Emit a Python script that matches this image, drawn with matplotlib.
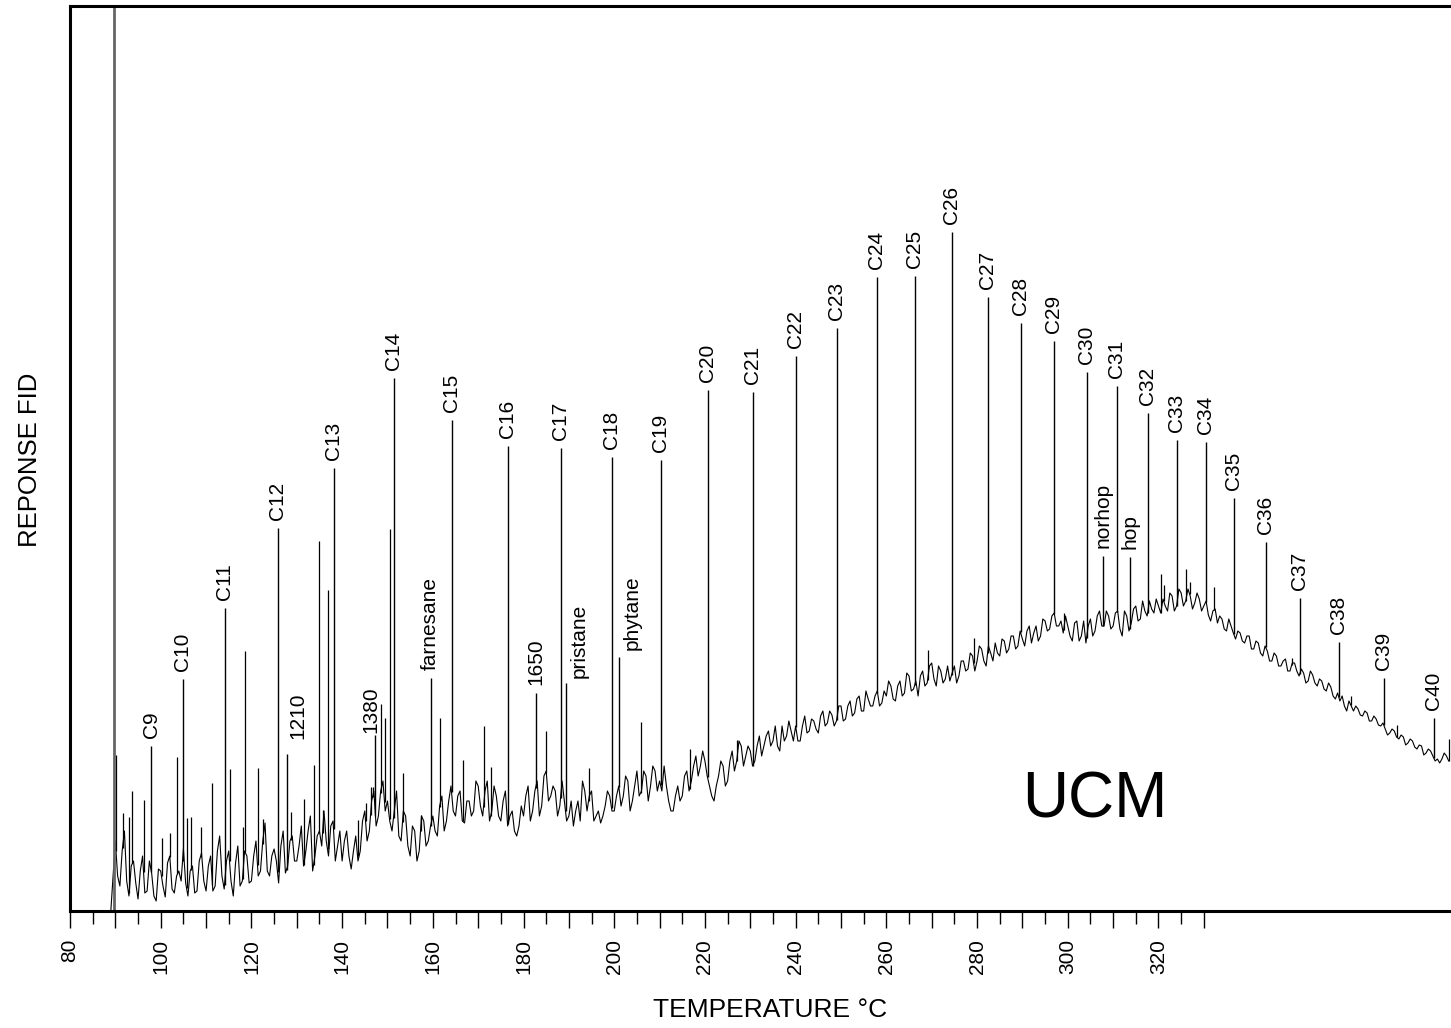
import matplotlib.pyplot as plt
import numpy as np

plt.rcParams["font.family"] = ["Liberation Sans", "DejaVu Sans"]

# FID trace (hump + noise), rows of ten starting at the key:
# whole-degree readings and the readings half a degree later
trace_start = (89.0, 0)
trace_rows = {
    90: [70, 25, 80, 15, 50, 12, 55, 20, 38, 10],
    100: [40, 14, 55, 18, 40, 62, 15, 45, 20, 58],
    110: [20, 55, 25, 75, 22, 60, 15, 65, 30, 55],
    120: [30, 70, 40, 88, 35, 62, 28, 80, 45, 75],
    130: [50, 85, 60, 95, 55, 80, 100, 55, 90, 65],
    140: [50, 80, 42, 75, 60, 100, 80, 120, 95, 130],
    150: [110, 80, 120, 70, 95, 55, 80, 60, 90, 70],
    160: [95, 75, 115, 90, 125, 95, 120, 88, 110, 100],
    170: [125, 95, 130, 100, 115, 90, 120, 95, 80, 85],
    180: [95, 125, 100, 130, 105, 140, 115, 120, 105, 110],
    190: [95, 85, 110, 130, 100, 120, 95, 88, 105, 115],
    200: [100, 125, 115, 130, 110, 140, 120, 135, 125, 140],
    210: [130, 145, 110, 100, 125, 115, 140, 130, 155, 145],
    220: [150, 125, 110, 135, 145, 130, 160, 150, 165, 155],
    230: [160, 150, 175, 165, 180, 170, 165, 185, 175, 180],
    240: [185, 170, 195, 180, 190, 178, 200, 188, 196, 190],
    250: [205, 192, 210, 198, 215, 200, 212, 205, 220, 208],
    260: [215, 225, 210, 230, 218, 235, 222, 215, 240, 228],
    270: [248, 225, 240, 232, 230, 245, 235, 250, 242, 255],
    280: [250, 262, 245, 258, 268, 255, 270, 262, 275, 265],
    290: [272, 280, 268, 285, 275, 290, 282, 298, 285, 278],
    300: [285, 270, 290, 275, 268, 292, 280, 300, 285, 295],
    310: [285, 300, 275, 295, 288, 305, 292, 300, 310, 298],
    320: [305, 312, 300, 315, 305, 318, 310, 315, 308, 312],
    330: [305, 296, 300, 288, 292, 280, 285, 272, 278, 268],
    340: [275, 262, 268, 255, 260, 250, 255, 245, 252, 240],
    350: [248, 235, 238, 230, 236, 225, 230, 220, 224, 212],
    360: [210, 205, 210, 200, 202, 195, 198, 190, 192, 185],
    370: [182, 178, 180, 172, 174, 168, 170, 162, 165, 158],
    380: [160, 150, 148, 158, 150],
}
trace_half_rows = {
    90: [35, 60, 30, 45, 28, 40, 18, 50, 15, 42],
    100: [25, 48, 22, 35, 30, 28, 40, 18, 50, 30],
    110: [45, 20, 60, 35, 50, 30, 48, 25, 60, 28],
    120: [55, 35, 70, 40, 55, 50, 65, 38, 70, 50],
    130: [65, 45, 80, 40, 75, 65, 70, 85, 50, 80],
    140: [70, 55, 60, 50, 90, 70, 110, 85, 120, 100],
    150: [90, 100, 75, 100, 65, 85, 50, 95, 65, 85],
    160: [80, 105, 80, 110, 100, 115, 90, 110, 95, 130],
    170: [105, 120, 90, 125, 95, 110, 85, 100, 75, 105],
    180: [115, 90, 120, 95, 135, 110, 125, 95, 130, 90],
    190: [110, 100, 90, 120, 115, 90, 100, 95, 120, 100],
    200: [115, 105, 135, 100, 125, 115, 140, 110, 145, 120],
    210: [120, 125, 100, 115, 110, 135, 120, 145, 135, 160],
    220: [135, 115, 125, 150, 125, 150, 140, 170, 145, 165],
    230: [145, 165, 155, 175, 165, 185, 160, 170, 190, 170],
    240: [170, 185, 178, 192, 182, 195, 185, 200, 185, 205],
    250: [190, 205, 195, 212, 200, 220, 205, 215, 205, 220],
    260: [230, 212, 225, 215, 238, 220, 230, 235, 225, 245],
    270: [232, 245, 228, 245, 238, 228, 250, 240, 258, 240],
    280: [265, 250, 265, 250, 258, 272, 258, 275, 262, 280],
    290: [265, 285, 278, 270, 292, 280, 295, 285, 290, 295],
    300: [275, 288, 270, 290, 285, 275, 295, 285, 300, 282],
    310: [298, 282, 300, 280, 302, 290, 310, 295, 302, 312],
    320: [298, 305, 318, 300, 322, 305, 322, 302, 318, 300],
    330: [310, 290, 302, 295, 282, 292, 278, 280, 270, 275],
    340: [262, 270, 258, 265, 250, 258, 245, 250, 240, 248],
    350: [240, 242, 228, 240, 228, 232, 222, 228, 215, 218],
    360: [215, 200, 205, 205, 196, 200, 190, 195, 186, 188],
    370: [176, 182, 174, 176, 166, 172, 164, 166, 156, 162],
    380: [155, 152, 152, 155],
}

solvent_temp = 89.6

# labelled peaks
peak_names = ["C9", "C10", "C11", "C12", "1210", "C13", "1380", "C14",
              "farnesane", "C15", "C16", "1650", "C17", "pristane", "C18",
              "phytane", "C19", "C20", "C21", "C22", "C23", "C24", "C25",
              "C26", "C27", "C28", "C29", "C30", "norhop", "C31", "hop",
              "C32", "C33", "C34", "C35", "C36", "C37", "C38", "C39", "C40"]
peak_temps = [97.97, 104.81, 114.07, 125.76, 127.74, 138.10, 147.36, 151.33,
              159.49, 164.12, 176.47, 182.64, 188.16, 189.26, 199.41,
              200.95, 210.21, 220.57, 230.50, 239.98, 249.02, 257.84, 266.22,
              274.38, 282.32, 289.59, 296.87, 304.15, 307.68, 310.76, 313.63,
              317.60, 323.99, 330.39, 336.56, 343.62, 351.12, 359.72, 369.64, 380.67]
peak_heights = [165, 232, 303, 383, 157, 443, 176, 533,
                233, 491, 465, 218, 463, 228, 454,
                254, 451, 521, 519, 555, 583, 634, 635,
                679, 614, 588, 570, 539, 355, 525, 354,
                498, 471, 469, 413, 369, 313, 269, 233, 193]

# unlabelled peaks
minor_temps = [90.14, 91.58, 92.90, 93.78, 96.21, 100.18, 101.94, 103.70, 105.69,
               106.57, 108.78, 111.42, 115.17, 118.04, 118.48, 121.35, 122.45,
               128.62, 131.49, 133.69, 134.80, 135.68, 136.78, 143.40, 145.16,
               146.26, 146.70, 148.47, 149.35, 150.45, 153.32, 157.29, 161.48,
               166.55, 171.18, 172.73, 184.85, 194.34, 205.80, 216.61, 226.98,
               269.09, 279.23, 299.08, 320.47, 321.13, 325.98, 326.86, 332.16,
               349.36, 362.37, 372.51, 383.97]
minor_heights = [156, 98, 94, 120, 111, 73, 78, 154, 93,
                 94, 84, 128, 142, 84, 260, 143, 92,
                 99, 112, 146, 370, 101, 321, 91, 108,
                 124, 124, 207, 193, 382, 138, 96, 193,
                 151, 185, 144, 180, 143, 189, 162, 171,
                 261, 273, 298, 337, 326, 342, 329, 324,
                 253, 215, 186, 172]

# label offsets in points (dx, dy) where the label is not right above its peak
label_offsets = {"1210": (8, 11), "1380": (-3.5, 1.5),
                 "pristane": (9.5, 3.5), "phytane": (10, 5)}

major_ticks = list(range(80, 331, 10))
tick_labels = [str(t) if t % 20 == 0 and t <= 320 else "" for t in major_ticks]
minor_ticks = list(range(85, 330, 10))

fig = plt.figure(figsize=(14.51, 10.28), dpi=100)
ax = fig.add_axes([70 / 1451, 117 / 1028, 1381 / 1451, 905 / 1028])

points = [trace_start]
for start, vals in trace_rows.items():
    points += [(start + i, v) for i, v in enumerate(vals)]
for start, vals in trace_half_rows.items():
    points += [(start + i + 0.5, v) for i, v in enumerate(vals)]
points.sort()
temps = [p[0] for p in points]
resp = [p[1] for p in points]

ax.plot(temps, resp, color="black", lw=0.8)

base = np.interp(peak_temps, temps, resp)
ax.vlines(peak_temps, base, peak_heights, color="black", lw=1.0)
base_minor = np.interp(minor_temps, temps, resp)
ax.vlines(minor_temps, base_minor, minor_heights, color="black", lw=0.9)
ax.vlines(solvent_temp, 0, 1000, color="#666666", lw=2.0)

for name, t, h in zip(peak_names, peak_temps, peak_heights):
    dx, dy = label_offsets.get(name, (0, 5.5))
    ax.annotate(name, (t, h), xytext=(dx, dy), textcoords="offset points",
                rotation=90, ha="center", va="bottom", fontsize=15)

ax.text(305.9, 93, "UCM", fontsize=46, ha="center", va="baseline")

ax.set_xlim(80, 384.5)
ax.set_ylim(0, 905)
ax.set_xticks(major_ticks)
ax.set_xticklabels(tick_labels)
ax.set_xticks(minor_ticks, minor=True)
ax.set_yticks([])
ax.tick_params(axis="x", which="major", length=12, width=1, pad=8,
               labelsize=15, labelrotation=90)
ax.tick_params(axis="x", which="minor", length=9, width=1)

ax.spines["right"].set_visible(False)
for side in ["left", "top", "bottom"]:
    ax.spines[side].set_linewidth(2.2)

fig.text(770 / 1451, 1 - 1010 / 1028, "TEMPERATURE °C", fontsize=19,
         ha="center", va="center")
fig.text(30 / 1451, 1 - 460 / 1028, "REPONSE FID", fontsize=18.5,
         rotation=90, ha="center", va="center")

fig.savefig("out.png", dpi=100)
